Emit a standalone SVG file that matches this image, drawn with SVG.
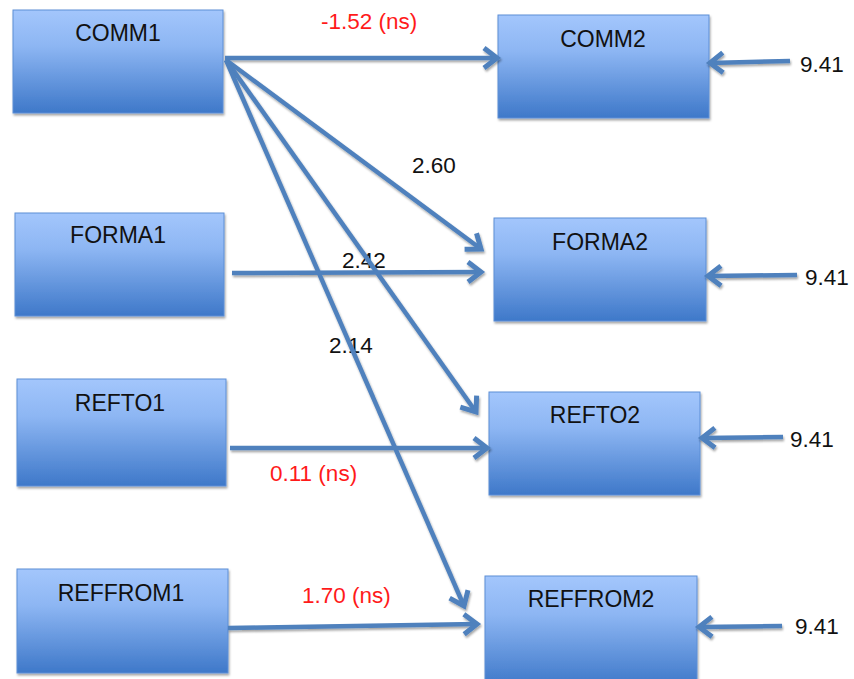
<svg xmlns="http://www.w3.org/2000/svg" width="854" height="679" viewBox="0 0 854 679">
<defs>
<linearGradient id="boxGrad" x1="0" y1="0" x2="0" y2="1">
<stop offset="0" stop-color="#a3c6fc"/>
<stop offset="0.35" stop-color="#8db6f3"/>
<stop offset="1" stop-color="#3e78c9"/>
</linearGradient>
<filter id="shadow" x="-10%" y="-10%" width="130%" height="130%">
<feDropShadow dx="1" dy="2" stdDeviation="1.2" flood-color="#000" flood-opacity="0.35"/>
</filter>
<marker id="arrow" markerUnits="userSpaceOnUse" markerWidth="34" markerHeight="34" refX="0" refY="0" viewBox="-18 -17 22 34" orient="auto">
<path d="M-13,-10 L0,0 L-13,10" fill="none" stroke="#4f81bd" stroke-width="5" stroke-linejoin="miter"/>
</marker>
</defs>
<style>
.box rect{fill:url(#boxGrad);stroke:#5d8fd6;stroke-width:1;filter:url(#shadow)}
.box text{font-family:"Liberation Sans",Arial,sans-serif;font-size:23px;fill:#111;text-anchor:middle}
.conn line{stroke:#4f81bd;stroke-width:4.5;marker-end:url(#arrow)}
.conn{filter:url(#shadow)}
.lbl{font-family:"Liberation Sans",Arial,sans-serif;font-size:22.5px;fill:#111}
.ns{fill:#ff1a1a}
</style>
<rect width="854" height="679" fill="#fff"/>
<g id="COMM1" class="box"><rect x="13" y="10" width="210" height="103"/><text x="118" y="41">COMM1</text></g>
<g id="FORMA1" class="box"><rect x="15" y="213" width="209" height="103"/><text x="118" y="243">FORMA1</text></g>
<g id="REFTO1" class="box"><rect x="17" y="379" width="209" height="107"/><text x="120" y="411">REFTO1</text></g>
<g id="REFFROM1" class="box"><rect x="17" y="569" width="211" height="104"/><text x="121" y="601">REFFROM1</text></g>
<g id="COMM2" class="box"><rect x="498" y="15" width="211" height="103"/><text x="603" y="47">COMM2</text></g>
<g id="FORMA2" class="box"><rect x="494" y="218" width="212" height="103"/><text x="600" y="250">FORMA2</text></g>
<g id="REFTO2" class="box"><rect x="489" y="392" width="211" height="103"/><text x="595" y="423">REFTO2</text></g>
<g id="REFFROM2" class="box"><rect x="485" y="576" width="212" height="110"/><text x="591" y="607">REFFROM2</text></g>
<g id="labels">
<text class="lbl ns" x="321" y="29">-1.52 (ns)</text>
<text class="lbl" x="412" y="173">2.60</text>
<text class="lbl" x="342" y="268">2.42</text>
<text class="lbl" x="329" y="353">2.14</text>
<text class="lbl ns" x="270" y="481">0.11 (ns)</text>
<text class="lbl ns" x="302" y="603">1.70 (ns)</text>
<text class="lbl" x="800" y="72">9.41</text>
<text class="lbl" x="805" y="285">9.41</text>
<text class="lbl" x="790" y="447">9.41</text>
<text class="lbl" x="795" y="634">9.41</text>
</g>
<g id="connectors" class="conn">
<line x1="225" y1="58" x2="497" y2="58"/>
<line x1="226" y1="60" x2="481" y2="249"/>
<line x1="226" y1="60" x2="476" y2="412"/>
<line x1="226" y1="60" x2="464" y2="606"/>
<line x1="232" y1="273" x2="481" y2="272"/>
<line x1="230" y1="448" x2="487" y2="448"/>
<line x1="228" y1="628" x2="477" y2="624"/>
<line x1="790" y1="61" x2="710" y2="63"/>
<line x1="797" y1="275" x2="708" y2="276"/>
<line x1="783" y1="437" x2="702" y2="438"/>
<line x1="782" y1="626" x2="699" y2="627"/>
</g>
</svg>
